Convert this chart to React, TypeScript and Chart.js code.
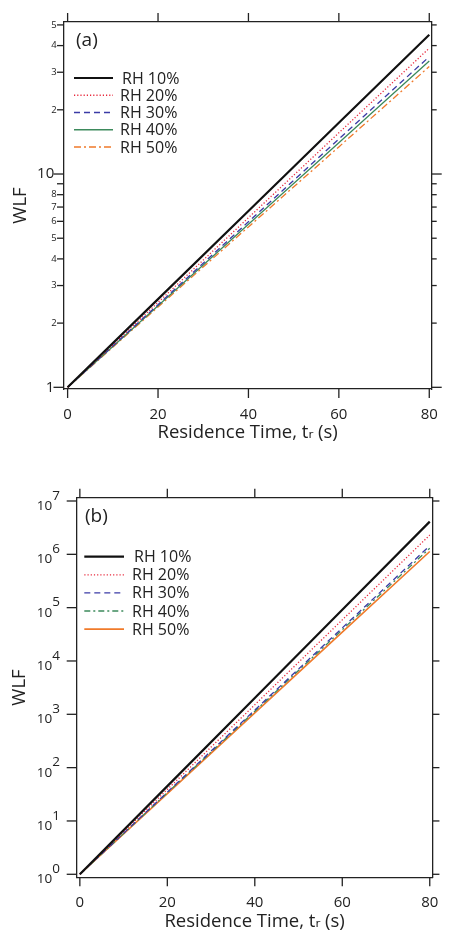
import React, { useEffect, useRef } from 'react';
import { Chart, registerables } from 'chart.js';

Chart.register(...registerables);

const FONT = "'Open Sans', 'DejaVu Sans', sans-serif";
Chart.defaults.font.family = FONT;
Chart.defaults.color = '#222';

// ---------------- data ----------------
const TIME_S = [0, 20, 40, 60, 80];
const SERIES_LABELS = ['RH 10%', 'RH 20%', 'RH 30%', 'RH 40%', 'RH 50%'];

// panel (a)
const WLF_A_RH10 = [1, 2.59, 6.71, 17.4, 45];
const WLF_A_RH20 = [1, 2.5, 6.24, 15.6, 38.9];
const WLF_A_RH30 = [1, 2.44, 5.97, 14.6, 35.5];
const WLF_A_RH40 = [1, 2.41, 5.82, 14.0, 33.9];
const WLF_A_RH50 = [1, 2.38, 5.65, 13.4, 31.9];

// panel (b)
const WLF_B_RH10 = [1, 45, 2030, 9.1e4, 4.1e6];
const WLF_B_RH20 = [1, 39, 1510, 5.9e4, 2.3e6];
const WLF_B_RH30 = [1, 34.7, 1200, 4.17e4, 1.45e6];
const WLF_B_RH40 = [1, 33.8, 1140, 3.86e4, 1.3e6];
const WLF_B_RH50 = [1, 32.6, 1060, 3.47e4, 1.13e6];

// ticks
const X_TICKS = [0, 20, 40, 60, 80];
const Y_TICKS_A = [1, 2, 3, 4, 5, 6, 7, 8, 9, 10, 20, 30, 40, 50];
const Y_LABELS_A = ['1\u2009', '2', '3', '4', '5', '6', '7', '8', '', '10\u2009', '2', '3', '4', '5'];
const Y_TICKS_B = [1, 10, 100, 1e3, 1e4, 1e5, 1e6, 1e7];
const Y_EXP_B = ['0', '1', '2', '3', '4', '5', '6', '7'];

const X_TITLE = 'Residence Time, t\u1D63 (s)';
const Y_TITLE = 'WLF';

// ---------------- styles ----------------
const INK = '#222';
const STYLE_A = [
  { color: '#111111', width: 2.2, dash: [] as number[] },
  { color: '#e8283c', width: 1.3, dash: [1.2, 2] },
  { color: '#3b3ba6', width: 1.3, dash: [6, 4] },
  { color: '#3d8a5c', width: 1.3, dash: [] as number[] },
  { color: '#f07a2a', width: 1.3, dash: [7, 3, 2, 3] },
];
const STYLE_B = [
  { color: '#111111', width: 2.2, dash: [] as number[] },
  { color: '#e8283c', width: 1.3, dash: [1.2, 2] },
  { color: '#3b3ba6', width: 1.3, dash: [6, 4] },
  { color: '#3d8a5c', width: 1.3, dash: [6, 3, 2, 3] },
  { color: '#f07a2a', width: 1.6, dash: [] as number[] },
];

function isDecade(v: number) {
  const l = Math.log10(v);
  return Math.abs(l - Math.round(l)) < 1e-9;
}

const frameTicks = {
  id: 'frameTicks',
  afterDraw(chart: any, _args: any, opts: any) {
    const { ctx, chartArea: ca, scales } = chart;
    ctx.save();
    ctx.strokeStyle = opts.color;
    ctx.lineWidth = opts.width;
    ctx.setLineDash([]);
    Object.values(scales).forEach((s: any) => {
      const log = s.type === 'logarithmic';
      const side = s.position;
      const major = side === 'left' ? opts.leftMajor : side === 'right' ? opts.rightMajor : opts.xLen;
      const minor = side === 'left' ? opts.leftMinor : side === 'right' ? opts.rightMinor : opts.xLen;
      s.ticks.forEach((t: any) => {
        const len = !log || isDecade(t.value) ? major : minor;
        const p = s.getPixelForValue(t.value);
        ctx.beginPath();
        if (side === 'bottom') { ctx.moveTo(p, ca.bottom); ctx.lineTo(p, ca.bottom + len); }
        else if (side === 'top') { ctx.moveTo(p, ca.top); ctx.lineTo(p, ca.top - len); }
        else if (side === 'left') { ctx.moveTo(ca.left, p); ctx.lineTo(ca.left - len, p); }
        else { ctx.moveTo(ca.right, p); ctx.lineTo(ca.right + len, p); }
        ctx.stroke();
      });
    });
    ctx.restore();
  },
};

const insetLegend = {
  id: 'insetLegend',
  afterDatasetsDraw(chart: any, _args: any, o: any) {
    const ctx = chart.ctx;
    ctx.save();
    ctx.fillStyle = INK;
    ctx.textAlign = 'left';
    ctx.textBaseline = 'middle';
    ctx.font = `${o.tagSize}px ${FONT}`;
    ctx.fillText(o.tag, o.tagX, o.tagY);
    ctx.font = `${o.size}px ${FONT}`;
    chart.data.datasets.forEach((ds: any, i: number) => {
      const y = o.y0 + i * o.dy;
      ctx.beginPath();
      ctx.setLineDash(ds.borderDash || []);
      ctx.strokeStyle = ds.borderColor;
      ctx.lineWidth = ds.borderWidth;
      ctx.moveTo(o.x1, y);
      ctx.lineTo(o.x2, y);
      ctx.stroke();
      ctx.setLineDash([]);
      ctx.fillText(ds.label, o.tx + (i === 0 ? 2 : 0), y + 1);
    });
    ctx.restore();
  },
};

function buildConfig(p: any) {
  const datasets = p.series.map((arr: number[], i: number) => ({
    label: SERIES_LABELS[i],
    data: TIME_S.map((t, j) => ({ x: t, y: arr[j] })),
    borderColor: p.styles[i].color,
    borderWidth: p.styles[i].width,
    borderDash: p.styles[i].dash,
    pointRadius: 0,
    fill: false,
    tension: 0,
  }));
  const border = { display: true, color: INK, width: 1.3 };
  const noGrid = { display: true, drawOnChartArea: false, drawTicks: false, color: 'rgba(0,0,0,0)' };
  const xTicks = (s: any) => { s.ticks = X_TICKS.map((v) => ({ value: v })); };
  const yTicks = (s: any) => { s.ticks = p.yTicks.map((v: number) => ({ value: v })); };
  return {
    type: 'line',
    data: { datasets },
    options: {
      responsive: false,
      animation: false,
      devicePixelRatio: 1,
      layout: { padding: 0 },
      plugins: {
        legend: { display: false },
        tooltip: { enabled: false },
        frameTicks: p.tickOpts,
        insetLegend: p.legendOpts,
      },
      scales: {
        x: {
          type: 'linear', position: 'bottom', min: p.xMin, max: p.xMax,
          afterBuildTicks: xTicks,
          afterFit: (s: any) => { s.height = p.bottomH; },
          ticks: { padding: p.xPad, font: { size: 15 }, color: INK, autoSkip: false, maxRotation: 0, callback: (v: any) => String(v) },
          grid: noGrid, border,
          title: { display: true, text: X_TITLE, color: INK, font: { size: 18.5 }, padding: { top: 0, bottom: p.xTitlePad } },
        },
        x2: {
          type: 'linear', position: 'top', min: p.xMin, max: p.xMax,
          afterBuildTicks: xTicks,
          afterFit: (s: any) => { s.height = p.topH; },
          ticks: { display: false },
          grid: noGrid, border,
        },
        y: {
          type: 'logarithmic', position: 'left', min: p.yMin, max: p.yMax,
          afterBuildTicks: yTicks,
          afterFit: (s: any) => { s.width = p.leftW; },
          ticks: { padding: p.yPad, color: INK, autoSkip: false, font: p.yFont, callback: p.yLabel },
          grid: noGrid, border,
          title: { display: true, text: Y_TITLE, color: INK, font: { size: 18.5 }, padding: { top: p.yTitlePad, bottom: 0 } },
        },
        y2: {
          type: 'logarithmic', position: 'right', min: p.yMin, max: p.yMax,
          afterBuildTicks: yTicks,
          afterFit: (s: any) => { s.width = p.rightW; },
          ticks: { display: false },
          grid: noGrid, border,
        },
      },
    },
    plugins: [frameTicks, insetLegend],
  };
}

const configA = () => buildConfig({
  series: [WLF_A_RH10, WLF_A_RH20, WLF_A_RH30, WLF_A_RH40, WLF_A_RH50],
  styles: STYLE_A,
  xMin: -0.91, xMax: 80.54,
  yMin: 0.982, yMax: 51.6,
  yTicks: Y_TICKS_A,
  yLabel: (_v: any, i: number) => Y_LABELS_A[i],
  yFont: (ctx: any) => (ctx.tick && isDecade(ctx.tick.value) ? { size: 15 } : { size: 9.5 }),
  leftW: 63.5, rightW: 17, topH: 22, bottomH: 76,
  xPad: 17, yPad: 6.8, xTitlePad: 21.5, yTitlePad: 10,
  tickOpts: { color: INK, width: 1.3, xLen: 9, leftMajor: 10, leftMinor: 6.5, rightMajor: 10, rightMinor: 5 },
  legendOpts: { tag: '(a)', tagX: 76, tagY: 41, tagSize: 19, x1: 74, x2: 113, tx: 120, y0: 78, dy: 17.25, size: 16 },
});

const configB = () => buildConfig({
  series: [WLF_B_RH10, WLF_B_RH20, WLF_B_RH30, WLF_B_RH40, WLF_B_RH50],
  styles: STYLE_B,
  xMin: -0.72, xMax: 80.61,
  yMin: 0.878, yMax: 1.153e7,
  yTicks: Y_TICKS_B,
  yLabel: (_v: any, i: number) => [Y_EXP_B[i], '10\u2007'],
  yFont: { size: 13.5, lineHeight: 0.78 },
  leftW: 76.7, rightW: 6.7, topH: 32.7, bottomH: 67.7,
  xPad: 16.5, yPad: 16.7, xTitlePad: 12, yTitlePad: 8.7,
  tickOpts: { color: INK, width: 1.3, xLen: 9, leftMajor: 10, leftMinor: 6, rightMajor: 7, rightMinor: 4 },
  legendOpts: { tag: '(b)', tagX: 85, tagY: 51.5, tagSize: 19, x1: 84.3, x2: 124, tx: 132, y0: 91.7, dy: 18.1, size: 16 },
});

function Panel({ make, top, height }: { make: () => any; top: number; height: number }) {
  const ref = useRef<HTMLCanvasElement>(null);
  useEffect(() => {
    const chart = new Chart(ref.current as HTMLCanvasElement, make());
    return () => chart.destroy();
  }, [make]);
  return (
    <canvas
      ref={ref}
      width={455}
      height={height}
      style={{ position: 'absolute', left: 0, top, width: 455, height, display: 'block' }}
    />
  );
}

export default function App() {
  return (
    <div style={{ position: 'fixed', left: 0, top: 0, width: 455, height: 930, overflow: 'hidden', background: '#fff' }}>
      <Panel make={configA} top={0} height={465} />
      <Panel make={configB} top={465} height={480} />
    </div>
  );
}
